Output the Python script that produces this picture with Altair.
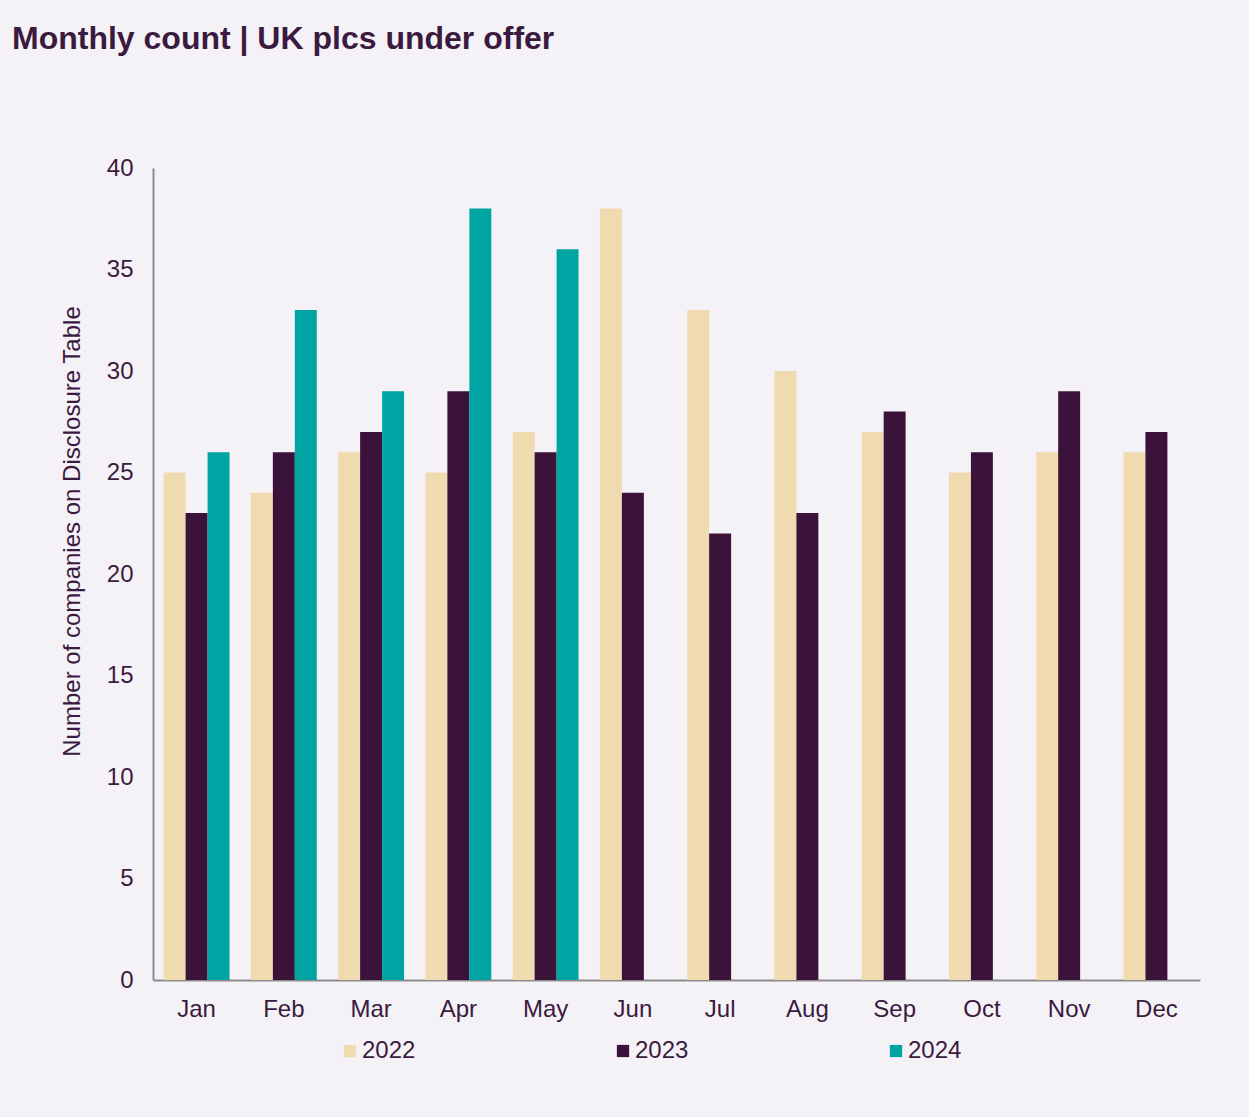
import altair as alt
import pandas as pd

# Monthly count of UK plcs under offer (companies on the Disclosure Table)
months = ["Jan", "Feb", "Mar", "Apr", "May", "Jun", "Jul", "Aug", "Sep", "Oct", "Nov", "Dec"]
years = ["2022", "2023", "2024"]
counts_2022 = [25, 24, 26, 25, 27, 38, 33, 30, 27, 25, 26, 26]
counts_2023 = [23, 26, 27, 29, 26, 24, 22, 23, 28, 26, 29, 27]
counts_2024 = [26, 33, 29, 38, 36]
colors = ["#f0dbb0", "#3a123a", "#00a5a3"]

rows = []
for year, series in zip(years, [counts_2022, counts_2023, counts_2024]):
    for month, value in zip(months, series):
        rows.append({"month": month, "year": year, "count": value})
df = pd.DataFrame(rows)

text_color = "#3b1a40"
font = "Liberation Sans"

chart = (
    alt.Chart(df)
    .mark_bar()
    .encode(
        x=alt.X(
            "month:N",
            sort=months,
            scale=alt.Scale(paddingInner=0.245, paddingOuter=0.122),
            axis=alt.Axis(
                title=None,
                labelAngle=0,
                labelFontSize=24,
                labelPadding=17,
                ticks=False,
                domainColor="#8c8c8c",
                domainWidth=2,
                labelColor=text_color,
                labelFont=font,
            ),
        ),
        xOffset=alt.XOffset("year:N", sort=years, scale=alt.Scale(paddingInner=0, paddingOuter=0)),
        y=alt.Y(
            "count:Q",
            scale=alt.Scale(domain=[0, 40]),
            axis=alt.Axis(
                title="Number of companies on Disclosure Table",
                values=list(range(0, 41, 5)),
                grid=False,
                ticks=False,
                labelFontSize=24,
                labelPadding=20,
                labelColor=text_color,
                labelFont=font,
                domainColor="#8c8c8c",
                domainWidth=2,
                titleFontSize=24,
                titleFontWeight="normal",
                titleColor=text_color,
                titleFont=font,
                titleX=-81,
                titleY=363,
                titleBaseline="middle",
            ),
        ),
        color=alt.Color(
            "year:N",
            sort=years,
            scale=alt.Scale(domain=years, range=colors),
            legend=alt.Legend(
                title=None,
                orient="none",
                direction="horizontal",
                columns=3,
                legendX=185,
                legendY=871,
                symbolType="square",
                symbolSize=150,
                symbolStrokeWidth=0,
                symbolOpacity=1,
                labelFontSize=24,
                labelColor=text_color,
                labelFont=font,
                labelOffset=0,
                columnPadding=195,
            ),
        ),
    )
    .properties(
        width=1047,
        height=812,
        title=alt.TitleParams(
            "Monthly count | UK plcs under offer",
            anchor="start",
            frame="group",
            dx=-141,
            offset=100,
            fontSize=32,
            fontWeight="bold",
            color=text_color,
            font=font,
        ),
        autosize=alt.AutoSizeParams(type="none"),
        padding={"left": 153, "top": 168, "right": 49, "bottom": 137},
        background="#f4f2f6",
    )
    .configure_view(stroke=None)
)

chart.save("out.html", embed_options={"renderer": "svg", "actions": False})
